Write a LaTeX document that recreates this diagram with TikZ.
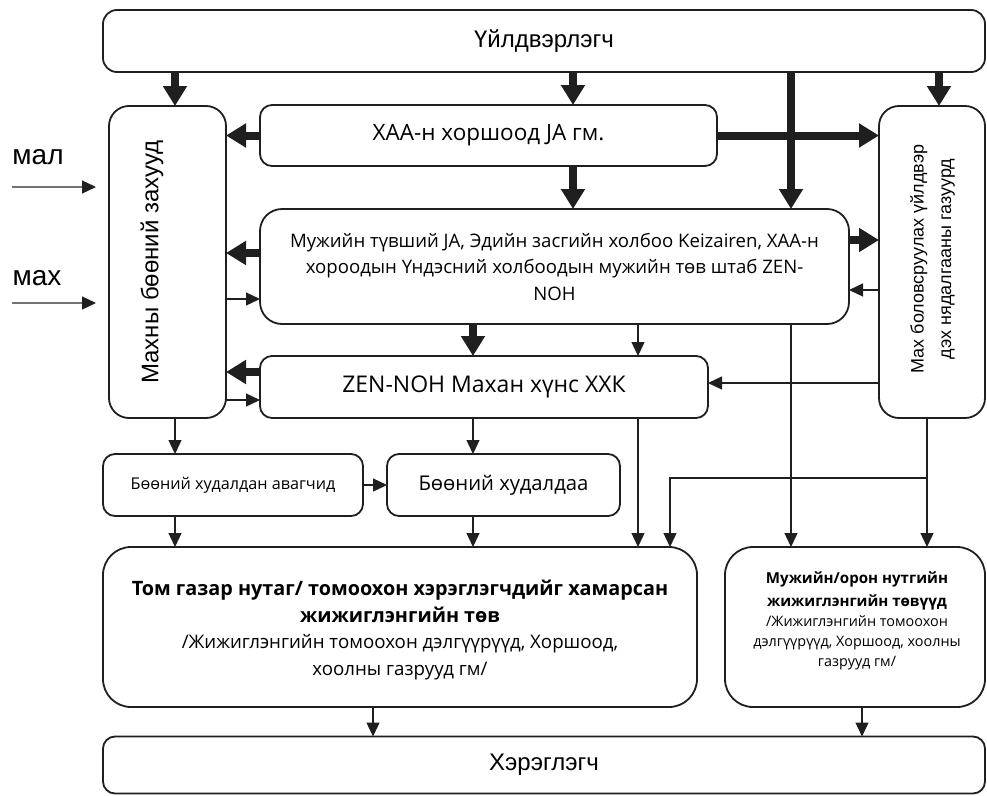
\documentclass[tikz,border=0pt]{standalone}
\usepackage{fontspec}
\setmainfont{Open Sans}
\newfontfamily\arialf{Liberation Sans}
\usetikzlibrary{arrows.meta}
\newcommand\bigbold{\bfseries\fontsize{19.8}{26.5}\selectfont}
\newcommand\bignorm{\mdseries\fontsize{18.7}{26.5}\selectfont}
\newcommand\smbold{\bfseries\fontsize{15.1}{20}\selectfont}
\newcommand\smnorm{\mdseries\fontsize{14.4}{20}\selectfont}
\begin{document}
\begin{tikzpicture}[x=1pt,y=-1pt,
  box/.style={draw=black!88, line width=1.8pt, rounded corners=#1, inner sep=0pt, outer sep=0pt, align=center},
  box/.default=12pt,
  thickarr/.style={draw=black!88, line width=8pt, -{Triangle[width=23pt,length=20pt]}},
  thinarr/.style={draw=black!88, line width=1.3pt, -{Triangle[width=13pt,length=14pt]}},
  inarr/.style={draw=black!55, line width=1.3pt, -{Triangle[width=13pt,length=14pt,fill=black!88,color=black!88]}},
  fs/.style 2 args={font=\fontsize{#1}{#2}\selectfont},
  afs/.style 2 args={font=\arialf\fontsize{#1}{#2}\selectfont}]
\useasboundingbox (0,0) rectangle (987,795);

% columns and rows used by connectors
\coordinate (cA) at (175,0);
\coordinate (cB) at (573,0);
\coordinate (cC) at (791,0);
\coordinate (cD) at (939,0);
\coordinate (cE) at (473,0);
\coordinate (cF) at (638,0);
\coordinate (cG) at (927,0);
\coordinate (cH) at (670,0);
\coordinate (cI) at (373,0);
\coordinate (cJ) at (862,0);
\coordinate (rA) at (0,253);
\coordinate (rB) at (0,299);
\coordinate (rC) at (0,240);
\coordinate (rD) at (0,290);
\coordinate (rE) at (0,372);
\coordinate (rF) at (0,400);
\coordinate (rG) at (0,383);
\coordinate (rH) at (0,478);

% boxes
\node[box=14pt, minimum width=882pt, minimum height=62pt, afs={24}{28}] (prod) at (544,41) {Үйлдвэрлэгч};
\node[box=20pt, minimum width=117pt, minimum height=312pt] (left) at (167.5,262) {};
\node[afs={24}{28}, rotate=90] (lefttext) at (152,262) {Махны бөөний захууд};
\node[box, minimum width=457pt, minimum height=61pt, fs={22.5}{26}] (haa) at (488.5,135.5) {ХАА-н хоршоод JA гм.};
\node[box=20pt, minimum width=106pt, minimum height=312pt] (right) at (932,262) {};
\node[afs={18}{27.5}, rotate=90, align=center] (righttext) at (932.5,259) {Мах боловсруулах үйлдвэр\\дэх нядалгааны газуурд};
\node[box=22pt, minimum width=589pt, minimum height=115pt, fs={18.6}{26.5}] (mid) at (554.5,266.5)
  {Мужийн түвший JA, Эдийн засгийн холбоо Keizairen, ХАА-н\\хороодын Үндэсний холбоодын мужийн төв штаб ZEN-\\NOH};
\node[box, minimum width=448pt, minimum height=62pt, fs={23}{27}] (zen) at (484,387) {ZEN-NOH Махан хүнс ХХК};
\node[box, minimum width=260pt, minimum height=62pt, fs={16.2}{19}] (buyers) at (233,485) {Бөөний худалдан авагчид};
\node[box, minimum width=233pt, minimum height=62pt, fs={20.3}{24}] (whole) at (503.5,485) {Бөөний худалдаа};
\node[box=28pt, minimum width=594pt, minimum height=160pt] (big) at (400,627) {};
\node[align=center, fs={18.7}{26.5}] (bigtext) at (400,630)
  {\bigbold Том газар нутаг/ томоохон хэрэглэгчдийг хамарсан\\
   \bigbold жижиглэнгийн төв\\
   \bignorm /Жижиглэнгийн томоохон дэлгүүрүүд, Хоршоод,\\
   \bignorm хоолны газрууд гм/};
\node[box=28pt, minimum width=260pt, minimum height=160pt] (rbig) at (855,627) {};
\node[align=center, fs={14.4}{20}] (rbigtext) at (857,621)
  {\smbold Мужийн/орон нутгийн\\[3pt]
   \smbold жижиглэнгийн төвүүд\\
   \smnorm /Жижиглэнгийн томоохон\\
   \smnorm дэлгүүрүүд, Хоршоод, хоолны\\
   \smnorm газрууд гм/};
\node[box, minimum width=882pt, minimum height=57pt, afs={24}{28}] (cons) at (544,765) {Хэрэглэгч};

% inputs
\node[afs={28}{30}] (mal) at (38,157) {мал};
\node[afs={28}{30}] (max) at (37,278) {мах};
\coordinate (malS) at (12,187);
\coordinate (malE) at (96,187);
\coordinate (maxS) at (12,303);
\coordinate (maxE) at (96,303);
\draw[inarr] (malS) -- (malE);
\draw[inarr] (maxS) -- (maxE);

% thick connectors
\draw[thickarr] (prod.south -| cA) -- (left.north -| cA);
\draw[thickarr] (prod.south -| cB) -- (haa.north -| cB);
\draw[thickarr] (prod.south -| cC) -- (mid.north -| cC);
\draw[thickarr] (prod.south -| cD) -- (right.north -| cD);
\draw[thickarr] (haa.west) -- (haa.west -| left.east);
\draw[thickarr] (haa.east) -- (haa.east -| right.west);
\draw[thickarr] (haa.south -| cB) -- (mid.north -| cB);
\draw[thickarr] (mid.west |- rA) -- (left.east |- rA);
\draw[thickarr] (mid.east |- rC) -- (right.west |- rC);
\draw[thickarr] (mid.south -| cE) -- (zen.north -| cE);
\draw[thickarr] (zen.west |- rE) -- (left.east |- rE);

% thin connectors
\draw[thinarr] (left.east |- rB) -- (mid.west |- rB);
\draw[thinarr] (right.west |- rD) -- (mid.east |- rD);
\draw[thinarr] (mid.south -| cF) -- (zen.north -| cF);
\draw[thinarr] (mid.south -| cC) -- (rbig.north -| cC);
\draw[thinarr] (left.east |- rF) -- (zen.west |- rF);
\draw[thinarr] (right.west |- rG) -- (zen.east |- rG);
\draw[thinarr] (zen.south -| cF) -- (big.north -| cF);
\draw[thinarr] (zen.south -| cE) -- (whole.north -| cE);
\draw[thinarr] (left.south -| cA) -- (buyers.north -| cA);
\draw[thinarr] (buyers.east) -- (whole.west);
\draw[thinarr] (buyers.south -| cA) -- (big.north -| cA);
\draw[thinarr] (whole.south -| cE) -- (big.north -| cE);
\draw[thinarr] (right.south -| cG) -- (rbig.north -| cG);
\coordinate (jn) at (cG |- rH);
\draw[thinarr] (jn) -| (big.north -| cH);
\draw[thinarr] (big.south -| cI) -- (cons.north -| cI);
\draw[thinarr] (rbig.south -| cJ) -- (cons.north -| cJ);
\end{tikzpicture}
\end{document}
